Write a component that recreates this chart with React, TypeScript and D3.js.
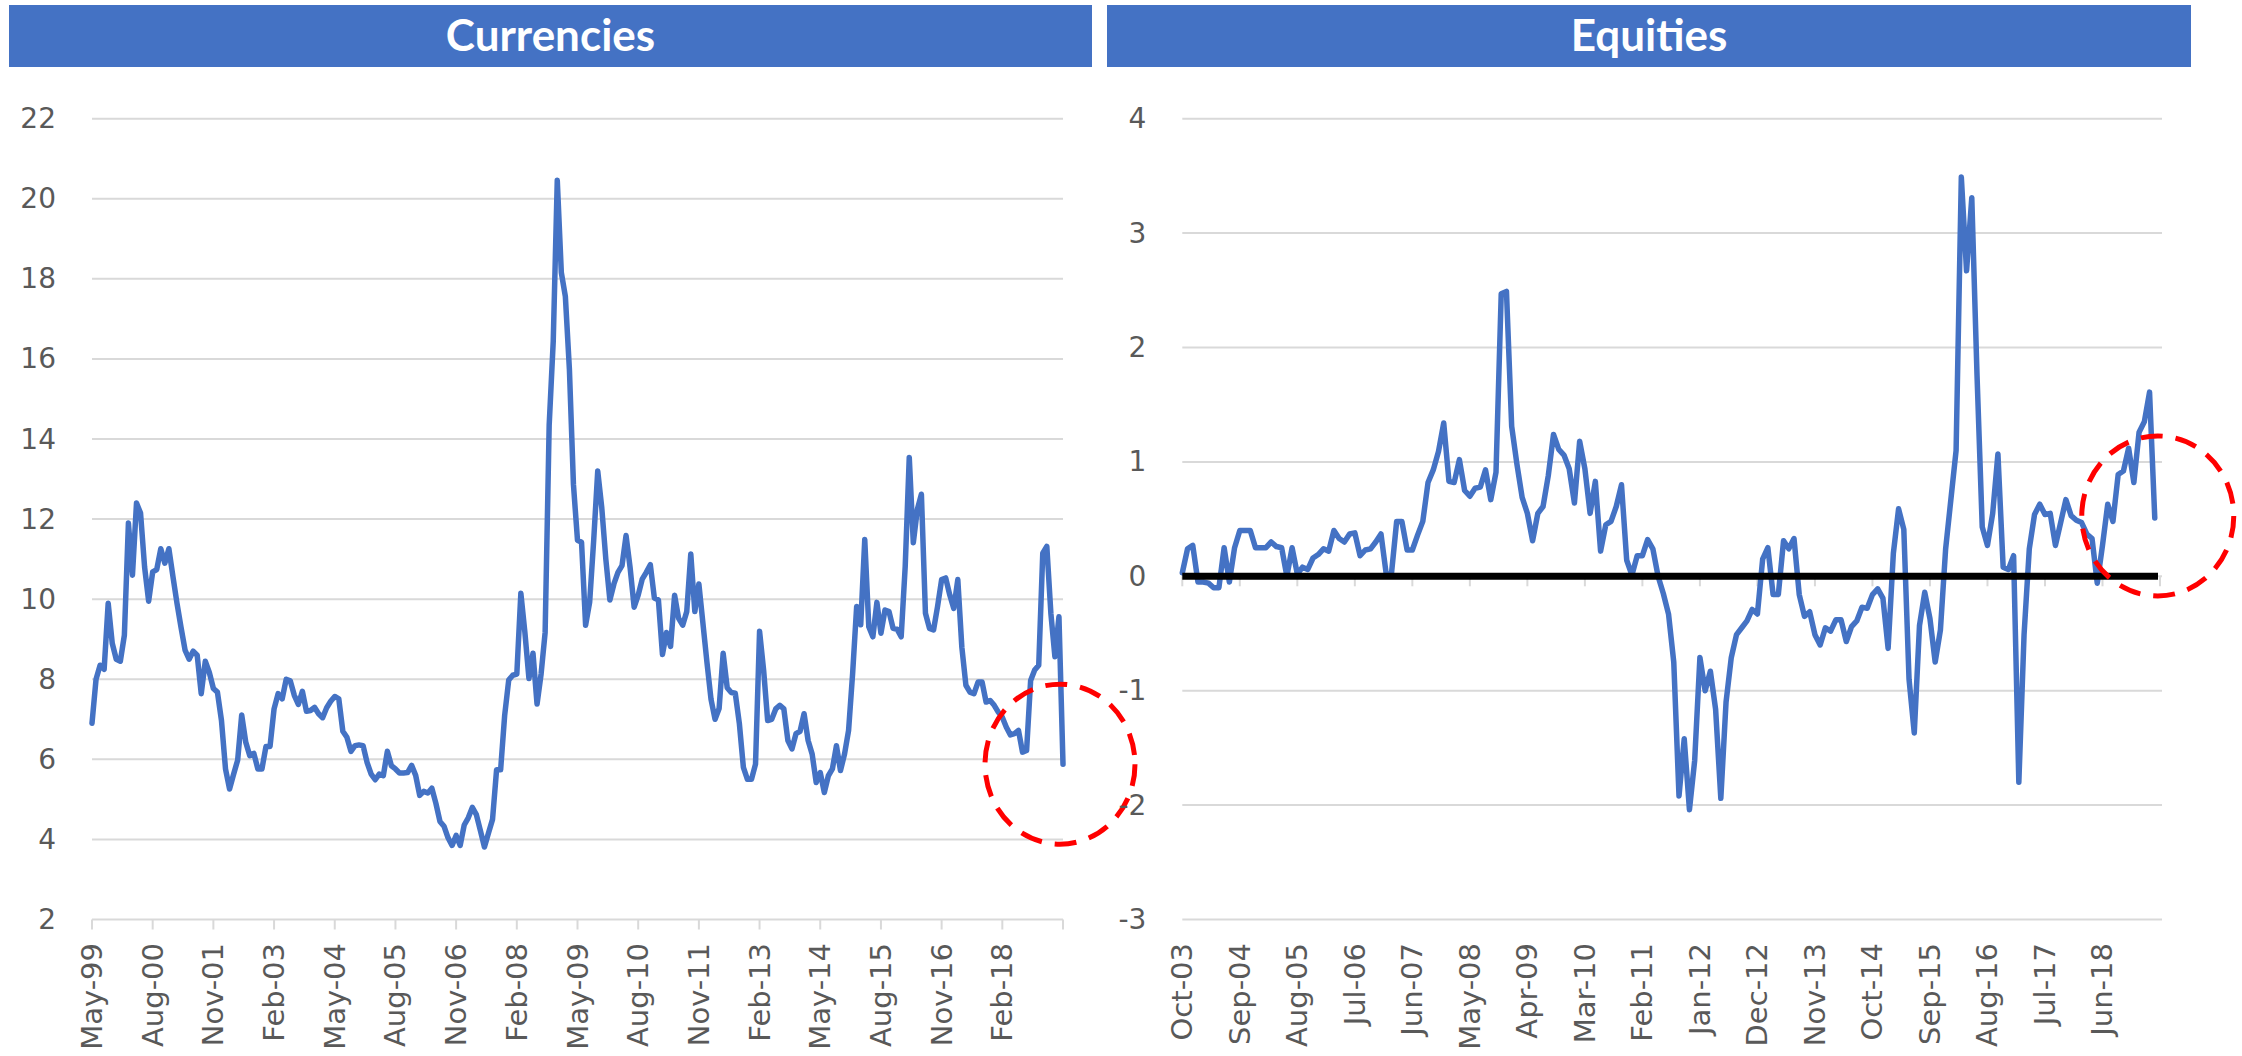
import React from 'react';
import * as d3 from 'd3';

const panelTitles = ['Currencies', 'Equities'];

// Currencies: monthly, May-99 .. May-19 (index 0..240)
const currencyValues = [
  6.9, 8.0, 8.35, 8.25, 9.9, 8.9, 8.5, 8.45, 9.1, 11.9,
  10.6, 12.4, 12.15, 10.8, 9.95, 10.68, 10.74, 11.26, 10.9, 11.26,
  10.57, 9.9, 9.3, 8.73, 8.5, 8.7, 8.6, 7.64, 8.45, 8.17,
  7.77, 7.68, 6.97, 5.76, 5.26, 5.63, 5.98, 7.11, 6.43, 6.09,
  6.15, 5.76, 5.76, 6.32, 6.32, 7.26, 7.64, 7.51, 8.0, 7.96,
  7.6, 7.37, 7.7, 7.2, 7.22, 7.3, 7.14, 7.04, 7.29, 7.45,
  7.57, 7.51, 6.7, 6.55, 6.2, 6.34, 6.36, 6.34, 5.92, 5.63,
  5.49, 5.63, 5.59, 6.2, 5.84, 5.76, 5.66, 5.66, 5.67, 5.85,
  5.6, 5.1, 5.2, 5.16, 5.28, 4.9, 4.45, 4.33, 4.04, 3.85,
  4.1, 3.85, 4.36, 4.54, 4.8, 4.62, 4.22, 3.81, 4.16, 4.5,
  5.74, 5.74, 7.1, 7.98, 8.1, 8.13, 10.15, 9.17, 8.02, 8.65,
  7.38, 8.13, 9.17, 14.35, 16.43, 20.46, 18.16, 17.56, 15.74, 12.86,
  11.47, 11.42, 9.35, 9.92, 11.47, 13.2, 12.28, 11.0, 9.98, 10.38,
  10.67, 10.84, 11.59, 10.79, 9.8, 10.1, 10.5, 10.67, 10.86, 10.03,
  9.98, 8.62, 9.17, 8.82, 10.1, 9.52, 9.35, 9.69, 11.13, 9.69,
  10.38, 9.4, 8.42, 7.5, 7.0, 7.27, 8.65, 7.79, 7.67, 7.65,
  6.9, 5.8, 5.5, 5.5, 5.88, 9.2, 8.23, 6.97, 7.0, 7.26,
  7.35, 7.26, 6.47, 6.26, 6.64, 6.7, 7.14, 6.47, 6.13, 5.42,
  5.67, 5.17, 5.59, 5.76, 6.34, 5.72, 6.13, 6.72, 8.14, 9.82,
  9.36, 11.49, 9.31, 9.06, 9.92, 9.15, 9.73, 9.69, 9.27, 9.25,
  9.06, 10.82, 13.54, 11.41, 12.24, 12.62, 9.65, 9.27, 9.23, 9.82,
  10.49, 10.53, 10.11, 9.77, 10.49, 8.8, 7.85, 7.68, 7.64, 7.93,
  7.93, 7.43, 7.47, 7.35, 7.18, 7.05, 6.8, 6.61, 6.64, 6.72,
  6.18, 6.22, 7.97, 8.23, 8.35, 11.15, 11.32, 9.65, 8.56, 9.56,
  5.88,
];
const currencyTickLabels = [
  'May-99', 'Aug-00', 'Nov-01', 'Feb-03', 'May-04', 'Aug-05', 'Nov-06', 'Feb-08',
  'May-09', 'Aug-10', 'Nov-11', 'Feb-13', 'May-14', 'Aug-15', 'Nov-16', 'Feb-18',
];
const currencyYTicks = [2, 4, 6, 8, 10, 12, 14, 16, 18, 20, 22];

// Equities: monthly, Oct-03 .. Apr-19 (index 0..186)
const equityValues = [
  0.03, 0.24, 0.27, -0.05, -0.05, -0.06, -0.1, -0.1, 0.25, -0.05,
  0.25, 0.4, 0.4, 0.4, 0.25, 0.25, 0.25, 0.3, 0.26, 0.25,
  0.0, 0.25, 0.02, 0.08, 0.06, 0.16, 0.19, 0.24, 0.22, 0.4,
  0.33, 0.3, 0.37, 0.38, 0.18, 0.23, 0.24, 0.3, 0.37, 0.02,
  0.02, 0.48, 0.48, 0.23, 0.23, 0.36, 0.48, 0.82, 0.93, 1.09,
  1.34, 0.83, 0.82, 1.02, 0.75, 0.7, 0.77, 0.78, 0.93, 0.67,
  0.91, 2.47, 2.49, 1.31, 0.98, 0.69, 0.55, 0.31, 0.55, 0.61,
  0.88, 1.24, 1.11, 1.06, 0.94, 0.64, 1.18, 0.94, 0.55, 0.83,
  0.22, 0.45, 0.48, 0.61, 0.8, 0.14, 0.01, 0.18, 0.18, 0.32,
  0.24, 0.0, -0.15, -0.33, -0.75, -1.92, -1.42, -2.04, -1.61, -0.71,
  -1.0, -0.83, -1.16, -1.94, -1.1, -0.71, -0.51, -0.45, -0.39, -0.29,
  -0.33, 0.15, 0.25, -0.16, -0.16, 0.31, 0.24, 0.33, -0.16, -0.35,
  -0.31, -0.51, -0.6, -0.45, -0.48, -0.38, -0.38, -0.57, -0.44, -0.39,
  -0.27, -0.28, -0.16, -0.11, -0.19, -0.63, 0.2, 0.59, 0.41, -0.9,
  -1.37, -0.43, -0.14, -0.37, -0.75, -0.47, 0.24, 0.67, 1.1, 3.49,
  2.67, 3.31, 1.76, 0.43, 0.27, 0.55, 1.07, 0.08, 0.06, 0.18,
  -1.8, -0.51, 0.24, 0.54, 0.63, 0.54, 0.55, 0.27, 0.47, 0.67,
  0.53, 0.49, 0.47, 0.37, 0.33, -0.06, 0.27, 0.63, 0.48, 0.89,
  0.92, 1.12, 0.82, 1.26, 1.35, 1.61, 0.51,
];
const equityTickLabels = [
  'Oct-03', 'Sep-04', 'Aug-05', 'Jul-06', 'Jun-07', 'May-08', 'Apr-09', 'Mar-10', 'Feb-11',
  'Jan-12', 'Dec-12', 'Nov-13', 'Oct-14', 'Sep-15', 'Aug-16', 'Jul-17', 'Jun-18',
];
const equityYTicks = [-3, -2, -1, 0, 1, 2, 3, 4];

const W = 2242;
const H = 1056;
const BLUE = '#4472C4';
const GRID = '#D9D9D9';
const LABEL = '#595959';
const AXIS_FONT = 'DejaVu Sans, sans-serif';
const TITLE_FONT = 'Lato, sans-serif';
const LINE_W = 5.5;

function Header({ x0, x1, title }: { x0: number; x1: number; title: string }) {
  return (
    <g>
      <rect x={x0} y={5} width={x1 - x0} height={62} fill={BLUE} />
      <text
        x={(x0 + x1) / 2}
        y={51}
        textAnchor="middle"
        fill="#ffffff"
        fontFamily={TITLE_FONT}
        fontWeight={700}
        fontSize={44}
      >
        {title}
      </text>
    </g>
  );
}

function CurrencyChart() {
  const x = d3.scaleLinear().domain([0, 240]).range([92, 1063]);
  const y = d3.scaleLinear().domain([2, 22]).range([919.5, 118.7]);
  const line = d3
    .line<number>()
    .x((_, i) => x(i))
    .y((d) => y(d))
    .curve(d3.curveLinear);
  const step = 15;
  const tickIdx = d3.range(0, 241, step);
  const last = currencyValues.length - 1;
  return (
    <g>
      {currencyYTicks.map((t) => (
        <g key={t}>
          {t !== 2 && (
            <line x1={x(0)} x2={x(240)} y1={y(t)} y2={y(t)} stroke={GRID} strokeWidth={2} />
          )}
          <text
            x={x(0) - 36}
            y={y(t)}
            textAnchor="end"
            dominantBaseline="central"
            fill={LABEL}
            fontFamily={AXIS_FONT}
            fontSize={28}
          >
            {t}
          </text>
        </g>
      ))}
      <line x1={x(0)} x2={x(240)} y1={y(2)} y2={y(2)} stroke={GRID} strokeWidth={2} />
      {tickIdx.map((i) => (
        <line key={i} x1={x(i)} x2={x(i)} y1={y(2)} y2={y(2) + 10} stroke={GRID} strokeWidth={2} />
      ))}
      {currencyTickLabels.map((lab, k) => {
        const px = x(k * step);
        return (
          <text
            key={lab}
            transform={`translate(${px},943) rotate(-90)`}
            textAnchor="end"
            dominantBaseline="central"
            fill={LABEL}
            fontFamily={AXIS_FONT}
            fontSize={29}
          >
            {lab}
          </text>
        );
      })}
      <path
        d={line(currencyValues) || ''}
        fill="none"
        stroke={BLUE}
        strokeWidth={LINE_W}
        strokeLinejoin="round"
        strokeLinecap="round"
      />
      <ellipse
        cx={x(last) - 3}
        cy={y(currencyValues[last])}
        rx={75}
        ry={80}
        fill="none"
        stroke="#FF0000"
        strokeWidth={5}
        strokeDasharray="22 13"
      />
    </g>
  );
}

function EquityChart() {
  const x = d3.scaleLinear().domain([0, 187]).range([1182.3, 2160]);
  const y = d3.scaleLinear().domain([-3, 4]).range([919.5, 118.7]);
  const line = d3
    .line<number>()
    .x((_, i) => x(i))
    .y((d) => y(d))
    .curve(d3.curveLinear);
  const step = 11;
  const tickIdx = d3.range(0, 188, step);
  const last = equityValues.length - 1;
  return (
    <g>
      {equityYTicks.map((t) => (
        <g key={t}>
          <line x1={x(0)} x2={x(187) + 2} y1={y(t)} y2={y(t)} stroke={GRID} strokeWidth={2} />
          <text
            x={x(0) - 36}
            y={y(t)}
            textAnchor="end"
            dominantBaseline="central"
            fill={LABEL}
            fontFamily={AXIS_FONT}
            fontSize={28}
          >
            {t}
          </text>
        </g>
      ))}
      {tickIdx.map((i) => (
        <line key={i} x1={x(i)} x2={x(i)} y1={y(0)} y2={y(0) + 10} stroke={GRID} strokeWidth={2} />
      ))}
      {equityTickLabels.map((lab, k) => {
        const px = x(k * step);
        return (
          <text
            key={lab}
            transform={`translate(${px},943) rotate(-90)`}
            textAnchor="end"
            dominantBaseline="central"
            fill={LABEL}
            fontFamily={AXIS_FONT}
            fontSize={29}
          >
            {lab}
          </text>
        );
      })}
      <path
        d={line(equityValues) || ''}
        fill="none"
        stroke={BLUE}
        strokeWidth={LINE_W}
        strokeLinejoin="round"
        strokeLinecap="round"
      />
      <line x1={x(0)} x2={x(187) - 2} y1={y(0)} y2={y(0)} stroke="#000000" strokeWidth={7} />
      <ellipse
        cx={x(last) + 3}
        cy={y(equityValues[last]) - 2}
        rx={76}
        ry={80}
        fill="none"
        stroke="#FF0000"
        strokeWidth={5}
        strokeDasharray="22 13"
      />
    </g>
  );
}

export default function App() {
  return (
    <svg
      width={W}
      height={H}
      viewBox={`0 0 ${W} ${H}`}
      style={{ position: 'absolute', left: 0, top: 0, display: 'block', background: '#ffffff' }}
    >
      <rect x={0} y={0} width={W} height={H} fill="#ffffff" />
      <Header x0={9} x1={1092} title={panelTitles[0]} />
      <Header x0={1107} x1={2191} title={panelTitles[1]} />
      <CurrencyChart />
      <EquityChart />
    </svg>
  );
}
